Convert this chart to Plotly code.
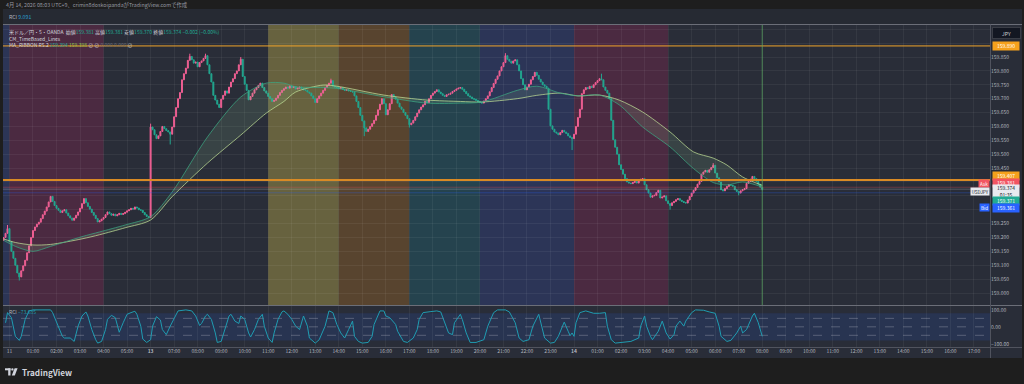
import plotly.graph_objects as go

W, H = 1024, 384
def px(x): return x / W
def py(y): return 1 - y / H

BASE = 159.0
PIP = 0.001

# ---------------- data ----------------
# 5-minute closes, in 0.001 above 159.000; bar index 0 = Sat 11 00:00 (JST)
first_index = -3
first_open = 190
closes = [
    200, 215, 232,
    185, 150, 125, 100, 72, 58, 80, 98, 118, 145, 170, 200,
    225, 238, 248, 255, 268, 282, 295, 310, 328, 348, 330, 315,
    305, 298, 290, 296, 300, 288, 278, 270, 262, 270, 280, 292,
    305, 322, 340, 325, 312, 302, 290, 280, 268, 256, 260, 266,
    272, 282, 292, 286, 280, 284, 278, 282, 287, 283, 286, 291,
    296, 300, 305, 302, 310, 306, 300, 298, 290, 282, 276, 272,
    598, 588, 570, 556, 566, 582, 600, 592, 585, 580, 572, 598,
    635, 668, 700, 722, 768, 790, 810, 838, 852, 840, 828, 832,
    815, 830, 836, 845, 855, 822, 790, 760, 712, 695, 680, 668,
    698, 712, 728, 720, 742, 760, 772, 790, 800, 822, 842, 780,
    752, 730, 696, 708, 720, 732, 740, 748, 756, 740, 728, 720,
    708, 700, 690, 694, 702, 712, 722, 730, 736, 742, 738, 746,
    740, 744, 735, 738, 742, 736, 732, 730, 724, 720, 710, 700,
    686, 700, 710, 720, 730, 740, 748, 756, 765, 745, 742, 740,
    736, 740, 734, 730, 732, 728, 726, 724, 710, 690, 668, 640,
    620, 595, 582, 590, 600, 610, 622, 640, 660, 680, 700, 682,
    642, 660, 682, 715, 706, 698, 684, 670, 662, 650, 640, 628,
    606, 612, 622, 635, 648, 660, 670, 678, 690, 686, 700, 712,
    720, 726, 732, 724, 718, 712, 708, 714, 716, 720, 726, 730,
    735, 738, 740, 734, 726, 718, 710, 706, 700, 698, 694, 690,
    686, 684, 692, 700, 710, 725, 740, 755, 770, 782, 800, 815,
    830, 855, 842, 835, 828, 836, 840, 822, 800, 772, 750, 732,
    742, 752, 768, 780, 795, 784, 770, 760, 750, 745, 738, 662,
    602, 590, 580, 576, 570, 578, 586, 580, 575, 566, 560, 556,
    572, 600, 632, 662, 718, 732, 740, 736, 745, 740, 750, 758,
    765, 772, 768, 742, 730, 720, 700, 622, 552, 525, 500, 462,
    445, 428, 412, 400, 396, 394, 398, 402, 396, 405, 410, 412,
    390, 372, 360, 345, 350, 352, 362, 370, 342, 346, 350, 332,
    322, 315, 325, 330, 336, 340, 334, 330, 326, 324, 335, 348,
    360, 370, 380, 392, 402, 428, 436, 442, 435, 444, 452, 460,
    432, 415, 400, 372, 368, 376, 384, 390, 388, 385, 372, 366,
    360, 368, 372, 376, 395, 402, 410, 420, 412, 402, 392, 381,
    374,
]
wick_high = {-1: 245, 72: 610, 92: 862, 100: 862, 118: 850, 164: 772,
             253: 864, 302: 790, 359: 468}
wick_low = {5: 45, 82: 535, 181: 565, 204: 596, 287: 515, 337: 300,
            372: 352, 384: 370}

# legend values of the last bar, as shown in the header
last_ohlc = [159.381, 159.381, 159.370, 159.374]
last_change = -0.002
ma_legend = [159.394, 159.398]
rci_now, rci_top_pane = -73.685, 9.091

# MA ribbon (slow / fast), sampled at bar indexes
ma_idx = [-3, 3, 12, 21, 37, 46, 59, 72, 83, 101, 118, 131, 140, 146, 160, 167,
          191, 213, 230, 241, 259, 269, 281, 290, 301, 311, 323, 337, 349, 359,
          366, 374, 384]
ma_slow = [195, 182, 173, 175, 195, 210, 235, 263, 347, 468, 569, 648, 690, 724,
           749, 745, 713, 695, 690, 688, 700, 712, 720, 710, 713, 695, 652, 580,
           508, 486, 461, 418, 388]
ma_fast = [190, 168, 150, 168, 203, 220, 245, 275, 364, 562, 706, 756, 756, 743,
           740, 737, 707, 684, 684, 688, 730, 745, 720, 710, 713, 678, 598, 526,
           448, 398, 389, 400, 382]

# RCI, sampled at bar indexes
rci_idx = [-2, -1, 1, 3, 5, 6, 8, 10, 12, 21, 22, 25, 27, 28, 31, 33, 35, 37, 39,
           40, 42, 44, 45, 47, 49, 50, 52, 54, 55, 56, 58, 60, 62, 64, 65, 67, 68,
           70, 72, 73, 75, 77, 78, 80, 82, 84, 86, 90, 93, 95, 97, 98, 100, 101,
           103, 105, 106, 108, 110, 112, 113, 115, 117, 118, 120, 122, 123, 125,
           127, 129, 130, 132, 134, 135, 137, 139, 140, 142, 144, 146, 148, 150,
           152, 153, 156, 158, 161, 163, 165, 167, 169, 171, 173, 175, 176, 178,
           180, 183, 185, 186, 189, 191, 192, 194, 197, 198, 201, 203, 206, 208,
           209, 211, 215, 218, 220, 222, 224, 226, 227, 230, 231, 233, 235, 238,
           242, 244, 247, 249, 253, 255, 258, 260, 262, 265, 267, 270, 271, 273,
           276, 278, 280, 282, 283, 285, 286, 287, 288, 289, 291, 294, 298, 301,
           304, 305, 307, 309, 313, 317, 321, 322, 324, 325, 327, 328, 331, 333,
           335, 337, 339, 340, 342, 344, 345, 348, 350, 354, 357, 360, 362, 363,
           366, 368, 371, 373, 374, 376, 379, 380, 382, 384]
rci_val = [24, 84, 54, -56, -80, -56, 44, 94, 100, 100, 84, 4, -56, -66, -66, -86,
           4, 64, 88, 64, -16, -76, -96, -86, -16, 44, 68, 54, 4, -32, 24, 74, 84,
           92, 74, 4, -72, -92, -76, 4, 60, 40, -16, -46, 4, 54, 94, 100, 94, 64, 8,
           20, 64, 74, 44, -36, -92, -86, -16, 64, 74, 34, 20, 64, 44, -36, -60,
           -16, 44, 74, 4, -66, -92, -36, 44, 88, 94, 74, 44, 4, -16, 64, 4, -66,
           -96, -76, 4, 94, 84, 14, -36, -66, -16, 34, -56, -86, -96, -92, -56, 14,
           94, 94, 64, 54, 14, -26, -86, -92, -66, -16, 44, 84, 90, 94, 88, 24,
           -36, -46, 24, 74, 44, -36, -92, -92, -76, 4, 84, 100, 100, 88, 24, -66,
           -86, -76, 4, 74, 24, -66, -96, -92, -56, -6, 28, -26, -52, -36, -56, 24,
           84, 94, 80, 80, 84, 4, -76, -96, -92, -86, -66, 4, 64, 4, -56, -76, -26,
           34, -36, -72, -46, 4, 34, 4, 34, 84, 100, 98, 88, 80, 4, -56, -86, -80,
           -36, 4, -36, -16, 64, 80, 24, -56, -72]
rci_levels = [50, 0, -50]
rci_band = [-80, 80]

# session background bands (hour index: 0 = Sat 00:00, 6 = Mon 06:00, 24 = Tue 00:00)
band_start_h = [-1, 0, 11, 14, 17, 20, 24]
band_end_h = [0, 4, 14, 17, 20, 24, 28]
band_colors = ['#2c3556', '#4b2a41', '#67623f', '#58442f', '#25434e', '#2c3557', '#4b2a41']

# axis ticks
tick_hours = list(range(42))
tick_labels = (['11', '01:00', '02:00', '03:00', '04:00', '05:00', '<b>13</b>'] +
               ['%02d:00' % h for h in range(7, 24)] + ['<b>14</b>'] +
               ['%02d:00' % h for h in range(1, 18)])
price_ticks = [round(159.0 + 0.05 * k, 3) for k in range(20)]
hidden_price_ticks = [159.3, 159.35, 159.4, 159.9, 159.95]

level_lines = [159.890, 159.407]
ask_price, last_price, bid_price, other_price = 159.381, 159.374, 159.361, 159.371
now_bar = 384

# ---------------- derived OHLC ----------------
idx = list(range(first_index, first_index + len(closes)))
opens = [first_open] + closes[:-1]
highs, lows = [], []
for i, o, c in zip(idx, opens, closes):
    highs.append(max(o, c, wick_high.get(i, 0)))
    lows.append(min(o, c, wick_low.get(i, 10 ** 6)))
P = lambda v: round(BASE + v * PIP, 3)
O = [P(v) for v in opens]; C = [P(v) for v in closes]
Hh = [P(v) for v in highs]; L = [P(v) for v in lows]

UP, DN = '#ef5f93', '#22a68f'
BG, OUTER = '#292d38', '#1e1e1e'
TXT = '#b2b5be'
FONT = 'Noto Sans CJK JP, Noto Sans, sans-serif'

X_LO, X_HI = -3.3, 500.2
MAIN_TOP, MAIN_BOT = 25, 305
RCI_TOP, RCI_BOT = 306, 347
Y_LO, Y_HI = 158.9568, 159.9654

fig = go.Figure()
fig.add_trace(go.Candlestick(
    x=idx, open=O, high=Hh, low=L, close=C, xaxis='x', yaxis='y',
    increasing=dict(line=dict(color=UP, width=1), fillcolor=UP),
    decreasing=dict(line=dict(color=DN, width=1), fillcolor=DN),
    whiskerwidth=0, hoverinfo='skip', showlegend=False))
fig.add_trace(go.Scatter(
    x=ma_idx, y=[P(v) for v in ma_slow], mode='lines', xaxis='x', yaxis='y',
    line=dict(color='rgba(190,220,150,0.75)', width=1, shape='spline', smoothing=0.8),
    hoverinfo='skip', showlegend=False))
fig.add_trace(go.Scatter(
    x=ma_idx, y=[P(v) for v in ma_fast], mode='lines', xaxis='x', yaxis='y',
    line=dict(color='rgba(60,165,130,0.75)', width=1, shape='spline', smoothing=0.8),
    fill='tonexty', fillcolor='rgba(150,205,150,0.14)',
    hoverinfo='skip', showlegend=False))
fig.add_trace(go.Scatter(
    x=rci_idx, y=rci_val, mode='lines', xaxis='x', yaxis='y2',
    line=dict(color='#1f9cb2', width=1), hoverinfo='skip', showlegend=False))

shapes = []
def rect(x0, y0, x1, y1, color, layer='below'):
    shapes.append(dict(type='rect', xref='paper', yref='paper', x0=px(x0), x1=px(x1),
                       y0=py(y1), y1=py(y0), fillcolor=color, line=dict(width=0), layer=layer))
def hline_px(y, x0, x1, color, w=1, layer='above'):
    shapes.append(dict(type='line', xref='paper', yref='paper', x0=px(x0), x1=px(x1),
                       y0=py(y), y1=py(y), line=dict(color=color, width=w), layer=layer))

rect(3, 9, 1022, 358, BG)
rect(3, 9, 1022, 24.5, '#262a33')
for s, e, col in zip(band_start_h, band_end_h, band_colors):
    shapes.append(dict(type='rect', xref='x', yref='paper', x0=max(12 * s, X_LO),
                       x1=12 * e, y0=py(MAIN_BOT), y1=py(MAIN_TOP), fillcolor=col,
                       line=dict(width=0), layer='below'))
shapes.append(dict(type='rect', xref='x domain', yref='y2', x0=0, x1=1,
                   y0=rci_band[0], y1=rci_band[1], fillcolor='rgba(41,98,255,0.13)',
                   line=dict(width=0), layer='below'))
for lv in rci_levels:
    shapes.append(dict(type='line', xref='x domain', yref='y2', x0=0, x1=1, y0=lv, y1=lv,
                       line=dict(color='rgba(160,165,180,0.4)', width=1, dash='dash'),
                       layer='below'))
hline_px(24.5, 3, 1022, '#6b6e78')
hline_px(305.5, 3, 1022, '#6b6e78')
hline_px(347.5, 3, 1022, '#50535e')
shapes.append(dict(type='line', xref='paper', yref='paper', x0=px(990.5), x1=px(990.5),
                   y0=py(358), y1=py(24.5), line=dict(color='#50535e', width=1), layer='above'))
# price level lines
for lv, w in zip(level_lines, [1, 2]):
    shapes.append(dict(type='line', xref='x domain', yref='y', x0=0, x1=1, y0=lv, y1=lv,
                       line=dict(color='#f0a32a' if w == 1 else '#d98a25', width=w), layer='above'))
for pr, col in [(ask_price, 'rgba(242,82,95,0.3)'), (last_price, 'rgba(190,195,205,0.3)'),
                (bid_price, 'rgba(41,98,255,0.3)')]:
    shapes.append(dict(type='line', xref='x domain', yref='y', x0=0, x1=1, y0=pr, y1=pr,
                       line=dict(color=col, width=1), layer='above'))
# current-time line
shapes.append(dict(type='line', xref='x', yref='paper', x0=now_bar, x1=now_bar,
                   y0=py(MAIN_BOT), y1=py(MAIN_TOP), line=dict(color='rgba(90,170,95,0.7)', width=1),
                   layer='above'))
# TradingView logo mark
rect(5, 368.3, 10.5, 370.3, '#d1d4dc', 'above')
rect(8.2, 368.3, 10.5, 375.5, '#d1d4dc', 'above')
shapes.append(dict(type='circle', xref='paper', yref='paper', x0=px(11.2), x1=px(13.6),
                   y0=py(370.6), y1=py(368.2), fillcolor='#d1d4dc', line=dict(width=0), layer='above'))
shapes.append(dict(type='path', xref='paper', yref='paper',
                   path='M %f %f L %f %f L %f %f L %f %f Z' % (px(14.6), py(368.3), px(17.6), py(368.3),
                                                              px(14.8), py(375.5), px(11.8), py(375.5)),
                   fillcolor='#d1d4dc', line=dict(width=0), layer='above'))

ann = []
def txt(x, y, s, size=5.2, color=TXT, anchor='left', **kw):
    d = dict(xref='paper', yref='paper', x=px(x), y=py(y), text=s, showarrow=False,
             xanchor=anchor, yanchor='middle', font=dict(size=size, color=color, family=FONT))
    d.update(kw)
    ann.append(d)

G = '#22ab94'
txt(4, 5.5, '4月 14, 2026 08:03 UTC+9、crimin8doskoipandaがTradingView.comで作成', 5.3, '#9598a1')
txt(7, 16.8, 'RCI <span style="color:#2a9fd0">%.3f</span>' % rci_top_pane, 5.2, '#b2b5be')
o_, h_, l_, c_ = last_ohlc
line1 = ('米ドル／円・5・OANDA  始値<span style="color:%s">%.3f</span> 高値<span style="color:%s">%.3f</span>'
         ' 安値<span style="color:%s">%.3f</span> 終値<span style="color:%s">%.3f</span>'
         ' <span style="color:%s">−%.3f (−0.00%%)</span>') % (G, o_, G, h_, G, l_, G, c_, G, abs(last_change))
txt(7, 31.7, line1, 5.0, '#d1d4dc')
txt(7, 38.3, 'CM_TimeBased_Lines', 5.0, '#d1d4dc')
txt(7, 44.6, 'MA_RIBBON R5.2 <span style="color:#26a69a">%.3f</span> '
             '<span style="color:#8bc34a">%.3f</span> ⊘ ⊘ '
             '<span style="color:#6a6d78">0.000 0.000</span> ⊘' % tuple(ma_legend), 5.0, '#d1d4dc')
txt(7, 311.5, 'RCI <span style="color:#1f9cb2">−%.3f</span>' % abs(rci_now), 5.0, '#b2b5be')
txt(20, 371.8, '<b>TradingView</b>', 8.2, '#d1d4dc')

def box(price, shift, s, bg, fg='#ffffff', h=6.5):
    ann.append(dict(xref='paper', yref='y', x=px(992), y=price, yshift=shift, text=s,
                    showarrow=False, xanchor='left', yanchor='middle', bgcolor=bg,
                    width=25, height=h, borderpad=0.6, align='center',
                    font=dict(size=5, color=fg, family=FONT)))
def tag(price, shift, s, bg, fg='#ffffff', w=8):
    ann.append(dict(xref='paper', yref='y', x=px(990), y=price, yshift=shift, text=s,
                    showarrow=False, xanchor='right', yanchor='middle', bgcolor=bg,
                    width=w, height=6, borderpad=0.6, align='center',
                    font=dict(size=4.6, color=fg, family=FONT)))

ann.append(dict(xref='paper', yref='paper', x=px(992), y=py(33), text='JPY', showarrow=False,
                xanchor='left', yanchor='middle', bgcolor='#131722', bordercolor='#3a3d46',
                width=25, height=8, font=dict(size=5, color='#d1d4dc', family=FONT)))
box(level_lines[0], 0, '%.3f' % level_lines[0], '#f5a11c')
box(level_lines[1], 4, '%.3f' % level_lines[1], '#f5a11c')
box(ask_price, 4, '%.3f' % ask_price, '#f25562')
tag(ask_price, 4, 'Ask', '#f25562', w=9)
box(last_price, -2, '%.3f<br>01:35' % last_price, '#e8eaef', '#131722', h=11)
tag(last_price, -2, 'USDJPY', '#e8eaef', '#131722', w=17)
box(other_price, -11, '%.3f' % other_price, '#22ab94')
box(bid_price, -15, '%.3f' % bid_price, '#2962ff')
tag(bid_price, -15, 'Bid', '#2962ff', w=8)

grid = 'rgba(255,255,255,0.055)'
fig.update_layout(
    width=W, height=H, margin=dict(l=0, r=0, t=0, b=0),
    paper_bgcolor=OUTER, plot_bgcolor='rgba(0,0,0,0)',
    hovermode=False, showlegend=False, dragmode=False,
    shapes=shapes, annotations=ann,
    xaxis=dict(domain=[px(3), px(990)], range=[X_LO, X_HI], anchor='y2',
               tickvals=[12 * h for h in tick_hours], ticktext=tick_labels,
               showgrid=True, gridcolor=grid, gridwidth=1, zeroline=False, showline=False,
               ticks='', tickfont=dict(size=5, color=TXT, family=FONT),
               rangeslider=dict(visible=False), fixedrange=True),
    yaxis=dict(domain=[py(MAIN_BOT), py(MAIN_TOP)], range=[Y_LO, Y_HI], anchor='x',
               side='right', tickvals=price_ticks,
               ticktext=['' if any(abs(t - hpt) < 1e-9 for hpt in hidden_price_ticks) else '%.3f' % t
                         for t in price_ticks],
               showgrid=True, gridcolor=grid, zeroline=False, showline=False, ticks='',
               tickfont=dict(size=5, color=TXT, family=FONT), fixedrange=True),
    yaxis2=dict(domain=[py(RCI_BOT), py(RCI_TOP)], range=[-119, 123], anchor='x',
                side='right', tickvals=[100, 0, -100], ticktext=['100.00', '0.00', '−100.00'],
                showgrid=False, zeroline=False, showline=False, ticks='',
                tickfont=dict(size=5, color=TXT, family=FONT), fixedrange=True),
)
fig.write_html('out.html', config={'displayModeBar': False, 'staticPlot': True},
               post_script="document.body.style.margin='0';document.body.style.overflow='hidden';"
                           "document.body.style.background='#1e1e1e';")
